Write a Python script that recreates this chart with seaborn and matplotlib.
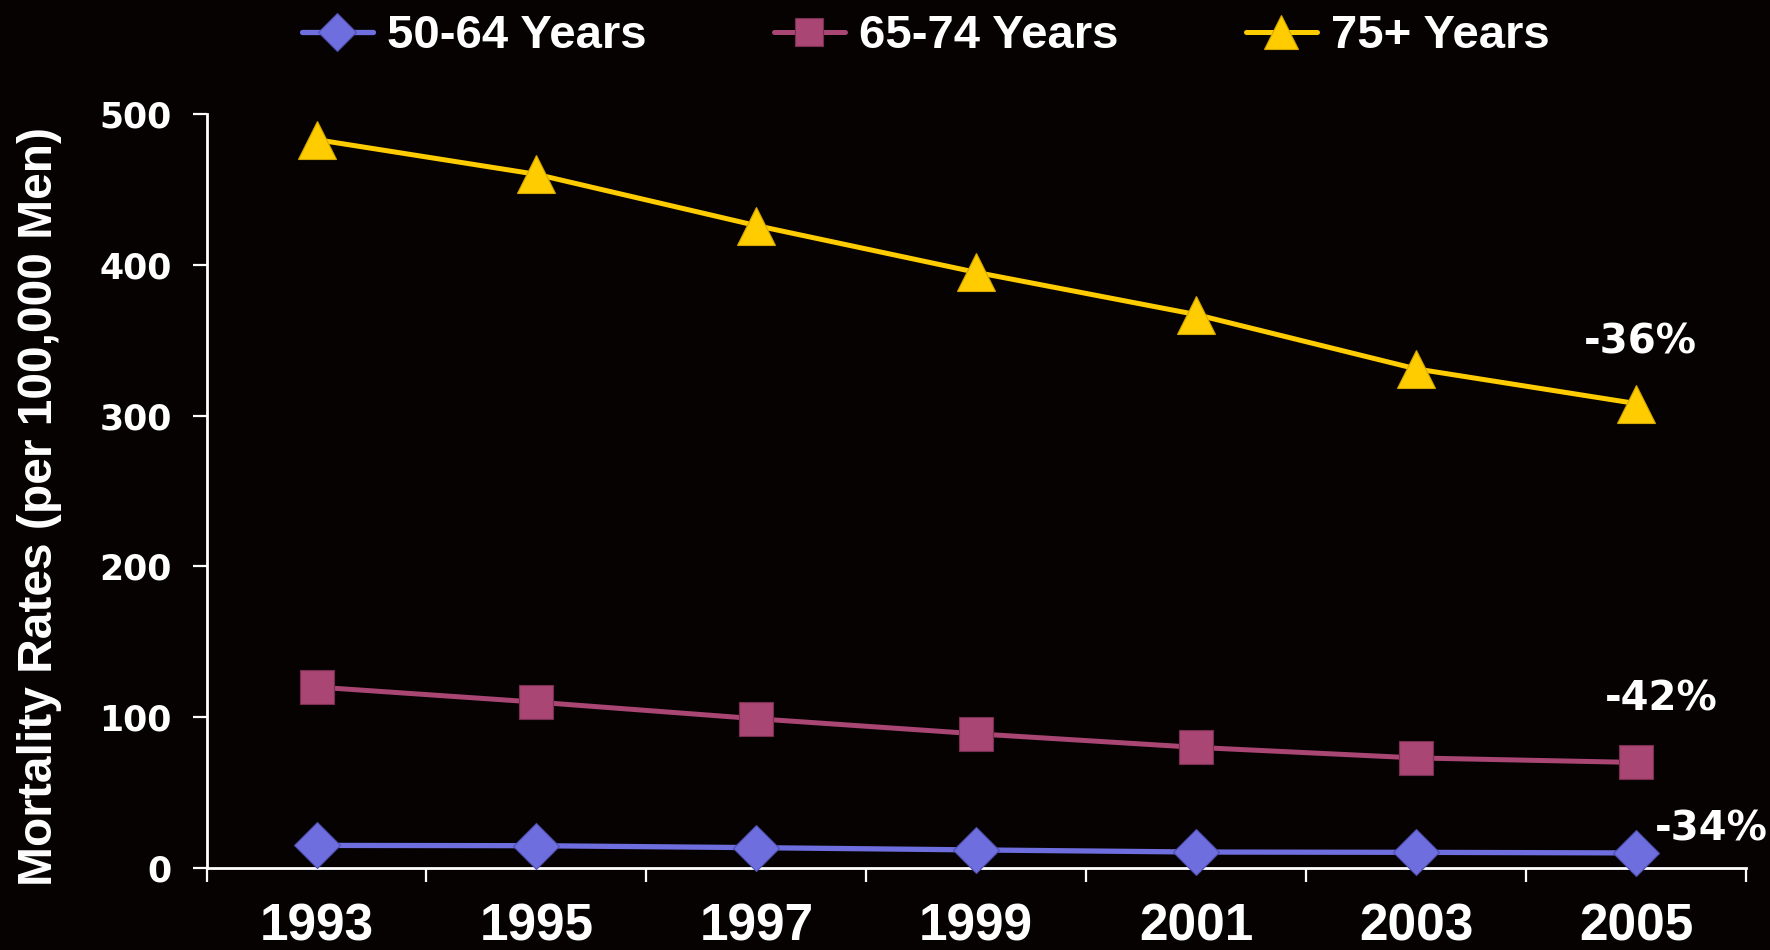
import matplotlib
matplotlib.use("Agg")
import matplotlib.pyplot as plt
import numpy as np
import pandas as pd
import seaborn as sns

# Survey years and mortality rates per 100,000 men
years = [1993, 1995, 1997, 1999, 2001, 2003, 2005]
rates_50_64 = [15, 14.8, 13.5, 12, 10.6, 10.4, 10]
rates_65_74 = [120, 110, 99, 89, 80, 73, 70]
rates_75_plus = [483, 460, 426, 395, 367, 331, 308]

groups = ["50-64 Years", "65-74 Years", "75+ Years"]
changes = ["-34%", "-42%", "-36%"]
y_ticks = [0, 100, 200, 300, 400, 500]

BG = "#060202"
colors = ["#6E6EDE", "#A94673", "#FFCC00"]
edge_colors = ["#5050B0", "#7A2E50", "#D4A800"]
markers = ["D", "s", "^"]
marker_sizes = [23, 24, 28]
line_widths = [3.8, 3.6, 3.6]
# offsets (points) of the change labels from each series' last point
label_offsets = [(54, 17), (18, 45), (3, 44)]

df = pd.DataFrame({
    "Year": years * 3,
    "Rate": rates_50_64 + rates_65_74 + rates_75_plus,
    "Group": np.repeat(groups, len(years)),
})

sns.set_style("ticks")
plt.rcParams.update({
    "figure.facecolor": BG,
    "axes.facecolor": BG,
    "savefig.facecolor": BG,
    "axes.edgecolor": "white",
    "xtick.color": "white",
    "ytick.color": "white",
    "text.color": "white",
    "axes.labelcolor": "white",
})
plt.rcParams["font.family"] = ["Liberation Sans", "DejaVu Sans"]

fig = plt.figure(figsize=(17.7, 9.5), dpi=100)
ax = fig.add_axes([0.1167, 0.0863, 0.8697, 0.7937])

for i, g in enumerate(groups):
    sub = df[df["Group"] == g]
    sns.lineplot(data=sub, x="Year", y="Rate", ax=ax, color=colors[i],
                 linewidth=line_widths[i], marker=markers[i],
                 markersize=marker_sizes[i], markeredgecolor=edge_colors[i],
                 markeredgewidth=0.8, label=g, clip_on=False, zorder=3)
    last = sub["Rate"].iloc[-1]
    ax.annotate(changes[i], xy=(years[-1], last), xytext=label_offsets[i],
                textcoords="offset points", ha="center", va="center",
                fontsize=29, fontweight="bold", family="DejaVu Sans",
                color="white", annotation_clip=False)

ax.set_xlim(1992, 2006)
ax.set_ylim(0, 500)

# year labels centred in each bin, tick marks on the bin edges
ax.set_xticks(years)
ax.set_xticklabels([str(y) for y in years], fontsize=37, fontweight="bold")
ax.tick_params(axis="x", which="major", length=0, pad=25)
ax.set_xticks(np.arange(1992, 2007, 2), minor=True)
ax.tick_params(axis="x", which="minor", length=10, width=1.6, direction="out")

ax.set_yticks(y_ticks)
ax.set_yticklabels([str(v) for v in y_ticks], fontsize=25, fontweight="bold",
                   family="DejaVu Sans")
ax.tick_params(axis="y", length=10, width=1.6, pad=15, direction="out")

ax.set_xlabel("")
ax.set_ylabel("Mortality Rates (per 100,000 Men)", fontsize=34.5,
              fontweight="bold")
ax.yaxis.set_label_coords(-0.094, 0.48)

for side in ["top", "right"]:
    ax.spines[side].set_visible(False)
for side in ["left", "bottom"]:
    ax.spines[side].set_linewidth(2)
    ax.spines[side].set_color("white")

leg = ax.legend(loc="center", bbox_to_anchor=(0.523, 0.962),
                bbox_transform=fig.transFigure, ncol=3, frameon=False,
                prop={"weight": "bold", "size": 34},
                handlelength=1.5, handletextpad=0.3, columnspacing=2.7,
                markerscale=0.85)
for t in leg.get_texts():
    t.set_color("white")

fig.savefig("out.png", dpi=100, facecolor=BG)
